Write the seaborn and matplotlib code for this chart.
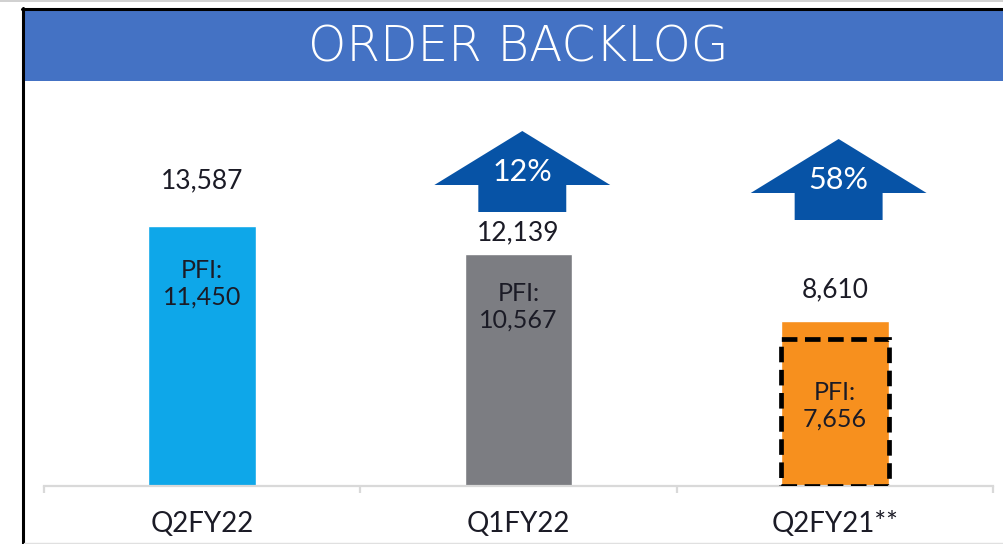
import numpy as np
import seaborn as sns
import matplotlib.pyplot as plt
from matplotlib.patches import Polygon, Rectangle
from matplotlib.lines import Line2D

# data
categories = ['Q2FY22', 'Q1FY22', 'Q2FY21**']
backlog = [13587, 12139, 8610]
pfi = [11450, 10567, 7656]
growth_cats = ['Q1FY22', 'Q2FY21**']
growth_pct = ['12%', '58%']

BAR_COLORS = ['#0EA7E9', '#7C7D82', '#F7901E']
ARROW_COLOR = '#0753A6'
BANNER_COLOR = '#4472C4'
TEXT_COLOR = '#1B1B26'
AXIS_GRAY = '#D9D9D9'

W, H = 1004, 544
PX_PER_UNIT = 0.01914   # pixels per backlog unit on the slide

sns.set_theme(style='white')
plt.rcParams['font.family'] = ['Lato', 'DejaVu Sans']

fig = plt.figure(figsize=(W / 100, H / 100), dpi=100)
ax = fig.add_axes([44 / W, 1 - 486 / H, 949 / W, 405 / H])

df = {'cat': categories, 'val': backlog}
sns.barplot(x='cat', y='val', hue='cat', data=df, palette=BAR_COLORS,
            width=0.34, legend=False, saturation=1, ax=ax)

ax.set_xlim(-0.5, 2.5)
ax.set_ylim(0, 405 / PX_PER_UNIT)
sns.despine(ax=ax, left=True, top=True, right=True)
ax.spines['bottom'].set_color(AXIS_GRAY)
ax.spines['bottom'].set_linewidth(1.6)
ax.set_yticks([])
ax.set_xlabel('')
ax.set_ylabel('')
ax.set_xticks(range(len(categories)))
ax.set_xticklabels(categories, fontsize=20, color=TEXT_COLOR)
ax.tick_params(axis='x', which='major', length=0, pad=18)
ax.set_xticks(np.arange(-0.5, len(categories)), minor=True)
ax.tick_params(axis='x', which='minor', length=5, width=1.6, color=AXIS_GRAY,
               direction='out', bottom=True)

# dashed PFI outline on the last bar
ax.bar(2, pfi[2], width=0.34, fill=False, edgecolor='black', linewidth=3.4,
       linestyle=(0, (3.3, 1.6)), zorder=4)

px = lambda p: p / PX_PER_UNIT   # pixels -> data units

# total labels above bars (offsets in px from bar top to text centre)
total_off = [45, 21, 31]
for i, v in enumerate(backlog):
    ax.text(i, v + px(total_off[i]), f'{v:,}', ha='center', va='center',
            fontsize=19, color=TEXT_COLOR)

# PFI labels inside bars (offsets in px below the bar/outline top)
pfi_off = [58, 53, 63]
pfi_top = [backlog[0], backlog[1], pfi[2] - px(3)]
for i, v in enumerate(pfi):
    ax.text(i, pfi_top[i] - px(pfi_off[i]), f'PFI:\n{v:,}', ha='center',
            va='center', fontsize=18, color=TEXT_COLOR, linespacing=1.2, zorder=5)

# growth arrows
arrow_bottom = [px(486 - 212), px(486 - 220)]
shaft_h, head_h = px(27), px(54)
half_w, shaft_w = 0.278, 0.139
for k, (c, pct) in enumerate(zip(growth_cats, growth_pct)):
    cx = categories.index(c) + 0.012
    yb = arrow_bottom[k]
    ys = yb + shaft_h
    pts = [(cx - shaft_w, yb), (cx + shaft_w, yb), (cx + shaft_w, ys),
           (cx + half_w, ys), (cx, ys + head_h), (cx - half_w, ys),
           (cx - shaft_w, ys)]
    ax.add_patch(Polygon(pts, closed=True, facecolor=ARROW_COLOR,
                         edgecolor='none', zorder=3))
    ax.text(cx, yb + px(40), pct, ha='center', va='center', fontsize=22,
            color='white', zorder=4)

# banner, title and slide frame
fig.patches.append(Rectangle((25 / W, 1 - 81 / H), 1 - 25 / W, 71 / H,
                             transform=fig.transFigure, facecolor=BANNER_COLOR,
                             edgecolor='none', zorder=1))
fig.text(518 / W, 1 - 47 / H, 'ORDER BACKLOG', ha='center', va='center',
         fontsize=35, color='white', fontweight='light',
         family=['DejaVu Sans'])
fig.lines.append(Line2D([22 / W, 1], [1 - 9 / H] * 2, transform=fig.transFigure,
                        color='black', linewidth=2.2))
fig.lines.append(Line2D([23 / W] * 2, [0, 1 - 8 / H], transform=fig.transFigure,
                        color='black', linewidth=2.2))
fig.lines.append(Line2D([0, 1], [1 - 0.5 / H] * 2, transform=fig.transFigure,
                        color='#C8C8C8', linewidth=1.2))
fig.lines.append(Line2D([24 / W, 1], [0.8 / H] * 2, transform=fig.transFigure,
                        color='#E0E0E0', linewidth=1.0))

fig.savefig('out.png', dpi=100)
